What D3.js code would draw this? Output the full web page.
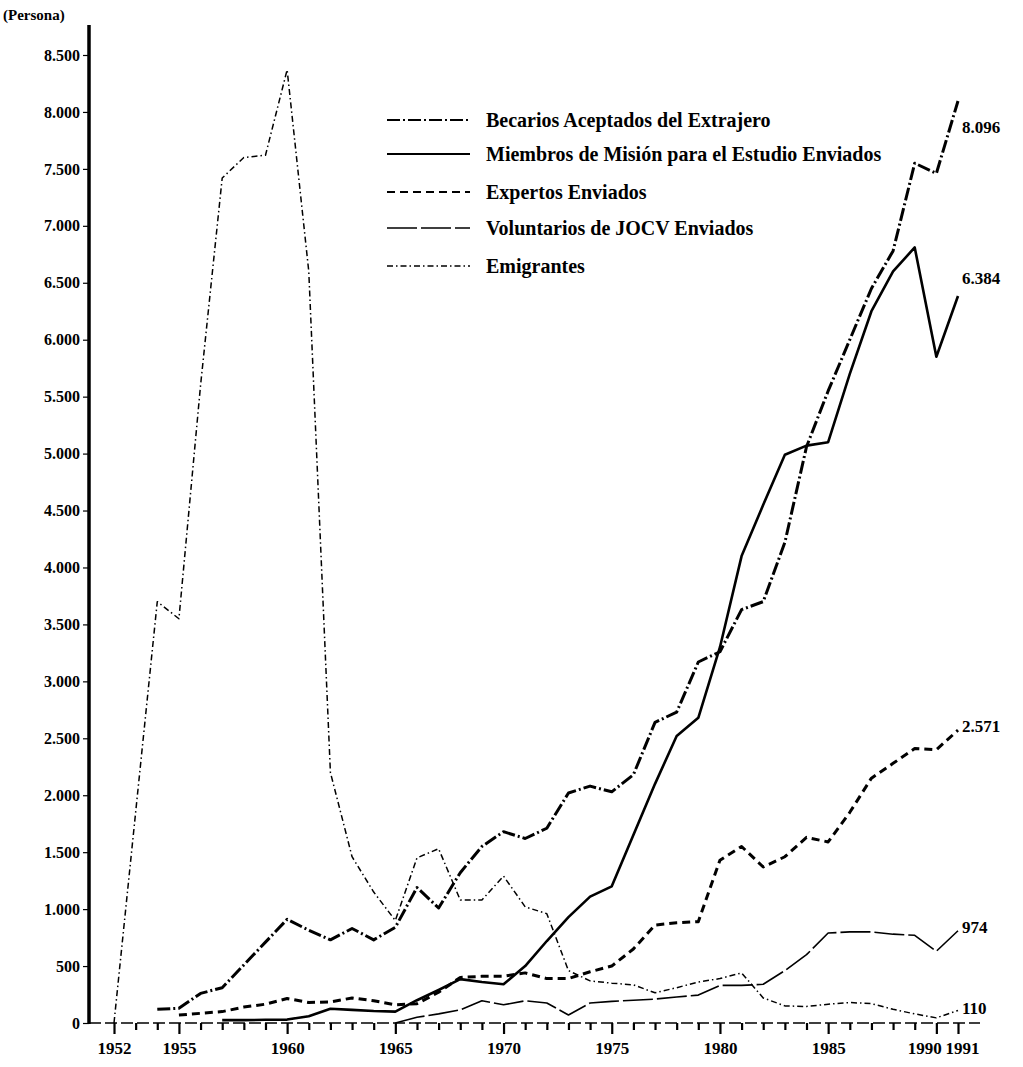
<!DOCTYPE html>
<html>
<head>
<meta charset="utf-8">
<script src="https://cdn.jsdelivr.net/npm/d3@7"></script>
<style>
  body { margin: 0; background: #fff; }
  svg { display: block; }
  text { font-family: "Liberation Serif", serif; font-weight: bold; fill: #000; }
</style>
</head>
<body>
<svg id="chart" width="1023" height="1067"></svg>
<script>
// jaren op de x-as
const jaren = [1952, 1953, 1954, 1955, 1956, 1957, 1958, 1959, 1960, 1961,
    1962, 1963, 1964, 1965, 1966, 1967, 1968, 1969, 1970, 1971,
    1972, 1973, 1974, 1975, 1976, 1977, 1978, 1979, 1980, 1981,
    1982, 1983, 1984, 1985, 1986, 1987, 1988, 1989, 1990, 1991]

const jaarLabels = [1952, 1955, 1960, 1965, 1970, 1975, 1980, 1985, 1990, 1991]
const yTicks = [0, 500, 1000, 1500, 2000, 2500, 3000, 3500, 4000, 4500, 5000, 5500, 6000, 6500, 7000, 7500, 8000, 8500]

const becarios = [null, null, 120, 130, 260, 310, 510, 710, 910, 815,
    730, 830, 730, 840, 1190, 1010, 1320, 1550, 1680, 1620,
    1710, 2020, 2080, 2030, 2180, 2640, 2730, 3170, 3260, 3630,
    3700, 4220, 5060, 5550, 6000, 6450, 6780, 7550, 7460, 8096]

const miembros = [null, null, null, null, null, 25, 25, 28, 30, 60,
    125, 115, 105, 100, 200, 290, 385, 360, 340, 500,
    720, 930, 1110, 1200, 1650, 2100, 2520, 2680, 3300, 4100,
    4550, 4990, 5070, 5100, 5700, 6250, 6600, 6810, 5850, 6384]

const expertos = [null, null, null, 70, 85, 100, 140, 165, 215, 180,
    185, 220, 195, 160, 170, 270, 400, 410, 410, 440,
    390, 390, 450, 500, 650, 860, 880, 890, 1430, 1550,
    1370, 1460, 1630, 1590, 1850, 2150, 2280, 2410, 2400, 2571]

const voluntarios = [null, null, null, null, null, null, null, null, null, null,
    null, null, null, 0, 50, 80, 115, 195, 160, 195,
    176, 70, 176, 190, 200, 210, 228, 245, 330, 330,
    340, 460, 600, 790, 800, 800, 780, 770, 630, 810]

const emigrantes = [0, null, 3700, 3550, 5600, 7420, 7600, 7620, 8370, 6600,
    2200, 1460, 1150, 900, 1450, 1530, 1080, 1080, 1290, 1020,
    960, 460, 370, 350, 335, 265, 310, 360, 390, 440,
    220, 150, 145, 165, 180, 170, 120, 80, 45, 110]

const reeksNamen = ["Becarios Aceptados del Extrajero", "Miembros de Misión para el Estudio Enviados",
    "Expertos Enviados", "Voluntarios de JOCV Enviados", "Emigrantes"]
const eindLabels = ["8.096", "6.384", "2.571", "974", "110"]

// stijl per reeks (niet de data)
const stijlen = [
    { width: 3, dash: "13,3,2,3" },
    { width: 2.6, dash: null },
    { width: 3, dash: "8,5" },
    { width: 1.6, dash: "30,4" },
    { width: 1.5, dash: "6,3,1.5,3" }
]
const labelDy = [32, -12, 2, 2, 4]

const svg = d3.select("#chart")

const x = d3.scaleLinear().domain([1952, 1991]).range([114, 958])
const y = d3.scaleLinear().domain([0, 8500]).range([1023, 55])

tekenAssen(svg)
tekenLijnen(svg, [becarios, miembros, expertos, voluntarios, emigrantes])
tekenLegenda(svg)

function tekenAssen(sel) {
    const nlFormat = d => d === 0 ? "0" : d3.format(",")(d).replace(",", ".")

    const yAs = sel.append("g")
        .attr("transform", "translate(89,0)")
        .call(d3.axisLeft(y).tickValues(yTicks).tickFormat(nlFormat).tickSize(6).tickPadding(3))
    yAs.select(".domain").remove()
    yAs.selectAll("text").style("font-size", "16px")
    yAs.selectAll("line").attr("stroke", "#000").attr("stroke-width", 1.2)

    // dikke y-as lijn
    sel.append("line")
        .attr("x1", 89).attr("x2", 89)
        .attr("y1", y(0) + 1).attr("y2", y(8500) - 30)
        .attr("stroke", "#000").attr("stroke-width", 3.5)

    // x-as basislijn
    sel.append("line")
        .attr("x1", 89).attr("x2", 980)
        .attr("y1", y(0)).attr("y2", y(0))
        .attr("stroke", "#000").attr("stroke-width", 1.4)
        .attr("stroke-dasharray", "12,4")

    const xAs = sel.append("g")
        .attr("transform", `translate(0,${y(0)})`)
        .call(d3.axisBottom(x).tickValues(jaren).tickSize(7)
            .tickFormat(d => jaarLabels.includes(d) ? d : ""))
    xAs.select(".domain").remove()
    xAs.selectAll("line")
        .attr("stroke", "#000")
        .attr("stroke-width", 2.2)
        .attr("y2", d => jaarLabels.includes(d) ? 11 : 7)
    xAs.selectAll("text")
        .style("font-size", "17px")
        .attr("y", 19)
        .attr("dx", d => d === 1990 ? -12 : d === 1991 ? 4 : 0)

    sel.append("text")
        .attr("x", 3).attr("y", 20)
        .style("font-size", "15px")
        .text("(Persona)")
}

function tekenLijnen(sel, reeksen) {
    const lijn = d3.line()
        .x(d => x(d.jaar))
        .y(d => y(d.waarde))

    reeksen.forEach((reeks, i) => {
        const punten = jaren.map((jaar, j) => ({ jaar: jaar, waarde: reeks[j] }))
            .filter(d => d.waarde !== null)

        sel.append("path")
            .datum(punten)
            .attr("d", lijn)
            .attr("fill", "none")
            .attr("stroke", "#000")
            .attr("stroke-width", stijlen[i].width)
            .attr("stroke-linejoin", "round")
            .attr("stroke-dasharray", stijlen[i].dash)

        const laatste = punten[punten.length - 1]
        sel.append("text")
            .attr("x", x(laatste.jaar) + 4)
            .attr("y", y(laatste.waarde) + labelDy[i])
            .style("font-size", "17px")
            .text(eindLabels[i])
    })
}

function tekenLegenda(sel) {
    const rijen = [120, 154, 192, 228, 266]
    const legenda = sel.append("g")

    reeksNamen.forEach((naam, i) => {
        legenda.append("line")
            .attr("x1", 387).attr("x2", 470)
            .attr("y1", rijen[i]).attr("y2", rijen[i])
            .attr("stroke", "#000")
            .attr("stroke-width", Math.min(stijlen[i].width, 2))
            .attr("stroke-dasharray", stijlen[i].dash)

        legenda.append("text")
            .attr("x", 486)
            .attr("y", rijen[i] + 7)
            .style("font-size", "20px")
            .text(naam)
    })
}
</script>
</body>
</html>
